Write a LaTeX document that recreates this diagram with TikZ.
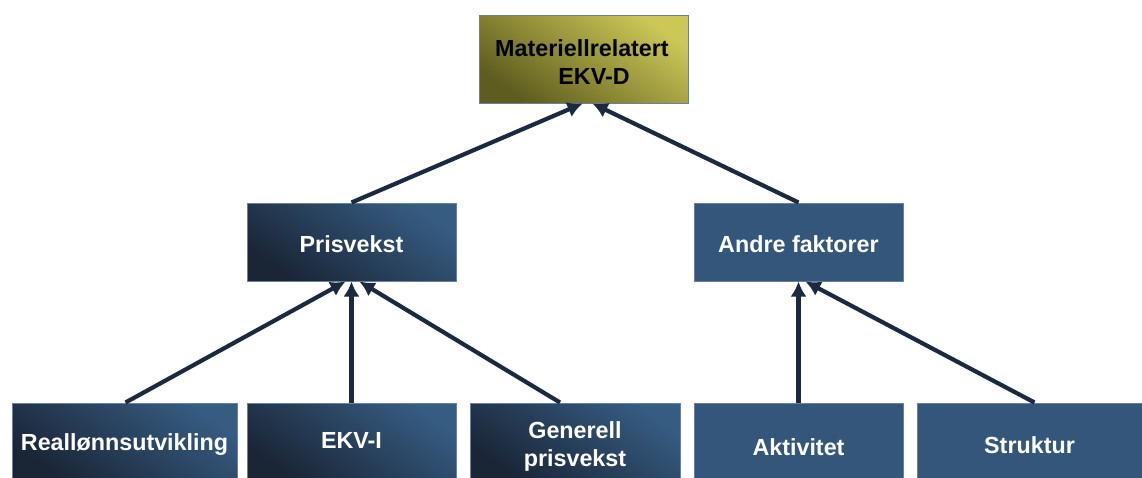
\documentclass[tikz,border=0pt]{standalone}
\usepackage{fontspec}
\setmainfont{Liberation Sans}
\usetikzlibrary{arrows.meta}
\definecolor{navy}{HTML}{1B2A3E}
\definecolor{bluelight}{HTML}{365C82}
\definecolor{bluedark}{HTML}{1A2536}
\definecolor{blueflat}{HTML}{33567A}
\definecolor{olivelight}{HTML}{CCC757}
\definecolor{olivedark}{HTML}{5E5C1E}
\definecolor{edge}{HTML}{6A809C}
\tikzset{
  box/.style={rectangle, draw=edge, line width=1pt, minimum width=209pt, minimum height=78pt,
    inner sep=0pt, font=\bfseries\fontsize{23}{28}\selectfont, align=center},
  gradbox/.style={box, text=white, shading=axis, top color=bluelight, bottom color=bluedark, shading angle=-35},
  flatbox/.style={box, text=white, fill=blueflat},
  olivebox/.style={box, text=black, shading=axis, top color=olivelight, bottom color=olivedark, shading angle=-35},
  lbl/.style={font=\bfseries\fontsize{23.3}{28}\selectfont, text=white},
  conn/.style={draw=navy, line width=4.2pt, -{Latex[length=15pt,width=16pt]}}
}
\begin{document}
\begin{tikzpicture}[x=1pt,y=-1pt]
\useasboundingbox (0,0) rectangle (1142,477);
% top
\node[olivebox, minimum height=88pt] (top) at (583.5,59) {};
\node[lbl, text=black, anchor=base] (t1) at (582,56) {Materiellrelatert};
\node[lbl, text=black, anchor=base] (t2) at (594,84) {EKV-D};
% middle
\node[gradbox] (pris) at (351.5,242) {};
\node[lbl] (prist) at (351.5,244) {Prisvekst};
\node[flatbox] (andre) at (798.5,242) {};
\node[lbl] (andret) at (798.5,244) {Andre faktorer};
% bottom
\node[gradbox, minimum width=225pt, minimum height=76pt] (real) at (124.5,441) {};
\node[lbl] (realt) at (124.5,445) {Reallønnsutvikling};
\node[gradbox, minimum height=76pt] (ekvi) at (351.5,441) {};
\node[lbl] (ekvit) at (351.5,440) {EKV-I};
\node[gradbox, minimum width=210pt, minimum height=76pt] (gen) at (575,441) {};
\node[lbl, align=center] (gent) at (575,446) {Generell\\prisvekst};
\node[flatbox, minimum height=76pt] (akt) at (798.5,441) {};
\node[lbl] (aktt) at (798.5,447) {Aktivitet};
\node[flatbox, minimum width=225pt, minimum height=76pt] (str) at (1029.5,441) {};
\node[lbl] (strt) at (1029.5,445) {Struktur};
% connectors
\draw[conn] (pris.north) -- ([xshift=-1pt]top.south);
\draw[conn] (andre.north) -- ([xshift=9pt]top.south);
\draw[conn] ([xshift=1pt]real.north) -- ([xshift=-6pt]pris.south);
\draw[conn] (ekvi.north) -- (pris.south);
\draw[conn] ([xshift=-15pt]gen.north) -- ([xshift=8pt]pris.south);
\draw[conn] (akt.north) -- (andre.south);
\draw[conn] ([xshift=5pt]str.north) -- ([xshift=7pt]andre.south);
\end{tikzpicture}
\end{document}
